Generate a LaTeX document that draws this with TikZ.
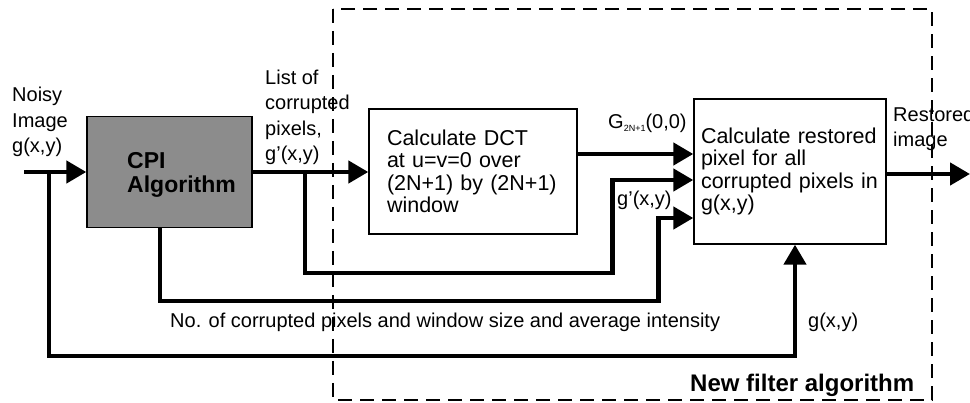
\documentclass[tikz,border=0pt]{standalone}
\usepackage{fontspec}
\setmainfont{Liberation Sans}
\usetikzlibrary{arrows.meta,positioning,calc}

\begin{document}
\begin{tikzpicture}[
    x=1pt, y=-1pt,
    block/.style={draw, line width=1.4pt, align=left, inner ysep=0pt, font=\fontsize{21.5}{22.5}\selectfont},
    lbl/.style={align=left, inner sep=0pt, font=\fontsize{20}{25.5}\selectfont},
    arrow/.style={-{Triangle[length=20pt,width=22pt]}, line width=4.5pt}
]
\useasboundingbox (0,0) rectangle (970,403);

% boundary of the new filter
\draw[line width=1.5pt, dash pattern=on 14pt off 8pt] (333,9) rectangle (932,400);

\node[draw, line width=1.4pt, fill=black!45, minimum width=165pt, minimum height=111pt] (cpi) at (169.5,172) {};
\node[anchor=west, align=left, inner sep=0pt, font=\bfseries\fontsize{23}{24}\selectfont] (cpitext) at (127,175) {CPI\\Algorithm};

\node[block, inner xsep=18pt, text width=172pt, minimum height=125pt] (dct) at (473,171.5) {Calculate DCT\\at u=v=0 over\\(2N+1) by (2N+1)\\window};
\node[block, inner xsep=7pt, text width=178pt, minimum height=145pt] (restore) at (790,171.5) {Calculate restored\\pixel for all\\corrupted pixels in\\g(x,y)};

% labels
\node[lbl, anchor=base west] (noisy) at (12,153) {Noisy\\Image\\g(x,y)};
\node[lbl, anchor=base west] (list) at (265,161) {List of\\corrupted\\pixels,\\g'(x,y)};
\node[lbl, anchor=base west] (dcval) at (608,129) {G\raisebox{-3pt}{\fontsize{9}{9}\selectfont 2N+1}(0,0)};
\node[lbl, anchor=base west] (gprime) at (617,206) {g'(x,y)};
\node[lbl, anchor=base west] (restored) at (893,147) {Restored\\image};
\node[lbl, anchor=base west] (count) at (170,328) {No. of corrupted pixels and window size and average intensity};
\node[lbl, anchor=base west] (gin) at (808,328) {g(x,y)};
\node[anchor=base west, inner sep=0pt, font=\bfseries\fontsize{24}{26}\selectfont] (newalg) at (690,392) {New filter algorithm};

\coordinate (in) at (24,172);
\coordinate (tap0) at (49,172);
\coordinate (tap1) at (305,172);
\coordinate (out) at (970,174);

\draw[arrow] (in) -- (cpi);
\draw[arrow] (cpi.east) -- (cpi.east -| dct.west);
\draw[arrow] ([yshift=17.5pt]dct.east) -- ([yshift=17.5pt]dct.east -| restore.west);
\draw[arrow] (tap1) -- ++(0,101) -| ([xshift=-81pt,yshift=-8.5pt]restore.west) -- ([yshift=-8.5pt]restore.west);
\draw[arrow] ([xshift=-9.5pt]cpi.south) -- ++(0,73) -| ([xshift=-35pt,yshift=-46.5pt]restore.west) -- ([yshift=-46.5pt]restore.west);
\draw[arrow] (tap0) -- ++(0,184) -| ([xshift=5pt]restore.south);
\draw[arrow] (restore.east |- out) -- (out);
\end{tikzpicture}
\end{document}
